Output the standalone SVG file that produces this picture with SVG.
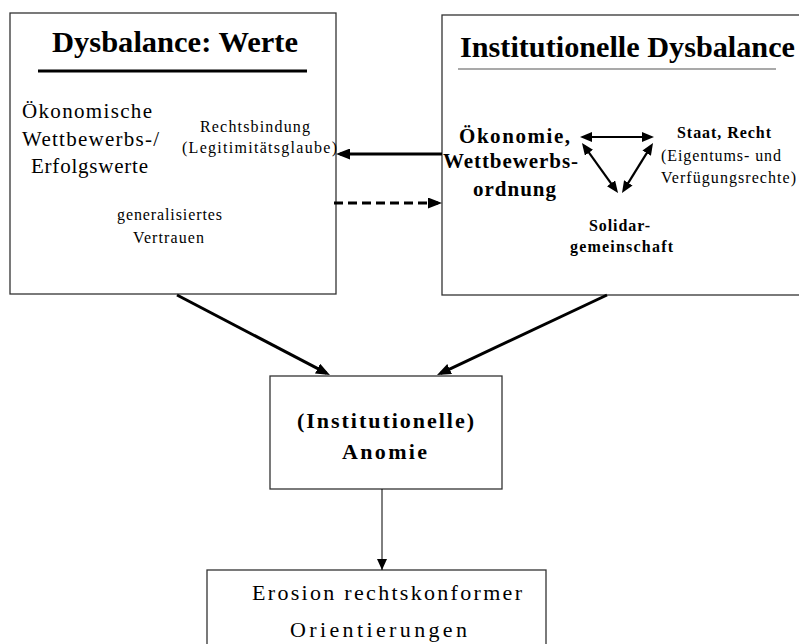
<svg xmlns="http://www.w3.org/2000/svg" width="799" height="644" viewBox="0 0 799 644">
  <style>
    .box { fill: #ffffff; stroke: #333333; stroke-width: 1.3; }
    text { font-family: "Liberation Serif", "Times New Roman", serif; fill: #000000; }
    .b { font-weight: bold; }
    .thick { stroke: #000000; stroke-width: 3; fill: none; }
    .mid { stroke: #000000; stroke-width: 2.2; fill: none; }
    .thin { stroke: #000000; stroke-width: 1; fill: none; }
  </style>
  <defs>
    <marker id="ah" viewBox="0 0 14 11" refX="10" refY="5.5" markerWidth="14" markerHeight="11" markerUnits="userSpaceOnUse" orient="auto-start-reverse">
      <path d="M0,0 L14,5.5 L0,11 z" fill="#000000"/>
    </marker>
    <marker id="ahs" viewBox="0 0 12 10" refX="8" refY="5" markerWidth="12" markerHeight="10" markerUnits="userSpaceOnUse" orient="auto-start-reverse">
      <path d="M0,0 L12,5 L0,10 z" fill="#000000"/>
    </marker>
    <marker id="aht" viewBox="0 0 11 10" refX="11" refY="5" markerWidth="11" markerHeight="10" markerUnits="userSpaceOnUse" orient="auto">
      <path d="M0,0 L11,5 L0,10 z" fill="#000000"/>
    </marker>
  </defs>

  <rect width="799" height="644" fill="#ffffff"/>

  <!-- value imbalance -->
  <g id="werte">
    <rect class="box" x="10" y="13" width="326" height="281"/>
    <text class="b" x="52" y="52" font-size="30" textLength="246" lengthAdjust="spacingAndGlyphs">Dysbalance: Werte</text>
    <line x1="38" y1="71" x2="307" y2="71" stroke="#000000" stroke-width="3"/>
    <text x="22" y="118" font-size="21" textLength="130" lengthAdjust="spacing">Ökonomische</text>
    <text x="22" y="146" font-size="21" textLength="137" lengthAdjust="spacing">Wettbewerbs-/</text>
    <text x="31" y="173" font-size="21" textLength="117" lengthAdjust="spacing">Erfolgswerte</text>
    <text x="200" y="132" font-size="16" textLength="110" lengthAdjust="spacing">Rechtsbindung</text>
    <text x="182" y="153" font-size="16" textLength="155" lengthAdjust="spacing">(Legitimitätsglaube)</text>
    <text x="117" y="220" font-size="16" textLength="105" lengthAdjust="spacing">generalisiertes</text>
    <text x="133" y="243" font-size="16" textLength="71" lengthAdjust="spacing">Vertrauen</text>
  </g>

  <!-- institutional imbalance -->
  <g id="institutionen">
    <rect class="box" x="442" y="15" width="370" height="280"/>
    <text class="b" x="460" y="57" font-size="29" textLength="335" lengthAdjust="spacingAndGlyphs">Institutionelle Dysbalance</text>
    <line x1="458" y1="69" x2="776" y2="69" stroke="#555555" stroke-width="1.2"/>
    <text class="b" x="459" y="143" font-size="21" textLength="111" lengthAdjust="spacing">Ökonomie,</text>
    <text class="b" x="443" y="168" font-size="21" textLength="135" lengthAdjust="spacing">Wettbewerbs-</text>
    <text class="b" x="473" y="196" font-size="21" textLength="83" lengthAdjust="spacing">ordnung</text>
    <text class="b" x="677" y="138" font-size="16" textLength="94" lengthAdjust="spacing">Staat, Recht</text>
    <text x="661" y="161" font-size="16" textLength="120" lengthAdjust="spacing">(Eigentums- und</text>
    <text x="661" y="183" font-size="16" textLength="135" lengthAdjust="spacing">Verfügungsrechte)</text>
    <text class="b" x="589" y="231" font-size="16" textLength="61" lengthAdjust="spacing">Solidar-</text>
    <text class="b" x="570" y="252" font-size="16" textLength="103" lengthAdjust="spacing">gemeinschaft</text>
    <!-- mutual relations between the three institutions -->
    <line class="mid" x1="584" y1="137" x2="650" y2="137" marker-start="url(#ahs)" marker-end="url(#ahs)"/>
    <line class="mid" x1="584.3" y1="146.2" x2="615.7" y2="189.8" marker-start="url(#ahs)" marker-end="url(#ahs)"/>
    <line class="mid" x1="650.9" y1="146.4" x2="624.1" y2="189.6" marker-start="url(#ahs)" marker-end="url(#ahs)"/>
  </g>

  <!-- anomie -->
  <g id="anomie">
    <rect class="box" x="270" y="376" width="232" height="113"/>
    <text class="b" x="297" y="428" font-size="22" textLength="177" lengthAdjust="spacing">(Institutionelle)</text>
    <text class="b" x="342" y="459" font-size="22" textLength="85" lengthAdjust="spacing">Anomie</text>
  </g>

  <!-- outcome -->
  <g id="erosion">
    <rect class="box" x="207" y="570" width="339" height="90"/>
    <text x="252" y="600" font-size="22" textLength="270" lengthAdjust="spacing">Erosion rechtskonformer</text>
    <text x="290" y="637" font-size="22" textLength="177" lengthAdjust="spacing">Orientierungen</text>
  </g>

  <g id="connectors">
    <line class="thick" x1="442" y1="154" x2="340" y2="154" marker-end="url(#ah)"/>
    <line class="thick" x1="334" y1="203" x2="438" y2="203" stroke-dasharray="9 5" marker-end="url(#ah)"/>
    <line class="thick" x1="177" y1="295" x2="326.4" y2="373.2" marker-end="url(#ah)"/>
    <line class="thick" x1="607" y1="295" x2="440.6" y2="373.3" marker-end="url(#ah)"/>
    <line class="thin" x1="382" y1="489" x2="382" y2="570" marker-end="url(#aht)"/>
  </g>
</svg>
